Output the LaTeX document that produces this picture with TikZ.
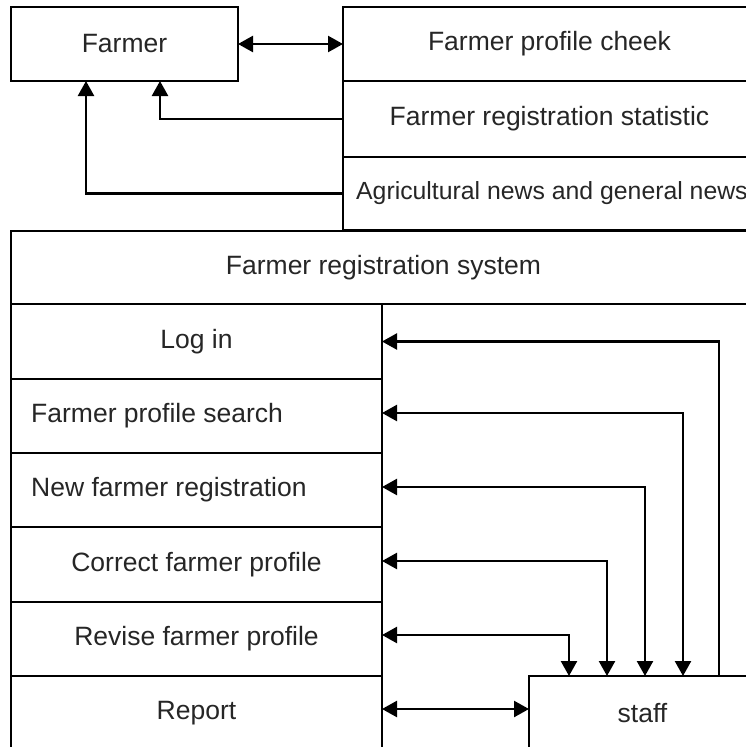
\documentclass[tikz,border=0pt]{standalone}
\usepackage{fontspec}
\setmainfont{Liberation Sans}
\usetikzlibrary{arrows.meta}
\tikzset{
  cell/.style={draw, line width=1.3pt, inner sep=0pt, outer sep=0pt, font=\fontsize{26.5}{30}\selectfont, text=black!85},
  txt/.style={inner sep=0pt, font=\fontsize{26.5}{30}\selectfont, text=black!85},
  tip/.tip={Triangle[length=15pt,width=16pt]},
  arr/.style={line width=2.4pt, -tip},
  biarr/.style={line width=2.4pt, tip-tip}
}
\begin{document}
\begin{tikzpicture}[x=1pt, y=-1pt]
\useasboundingbox (0,0) rectangle (746,747);
\clip (0,0) rectangle (746,747);
\fill[white] (0,0) rectangle (746,747);
% top part
\node[cell, minimum width=227pt, minimum height=74pt] (farmer) at (124.5,44) {Farmer};
\node[cell, minimum width=413pt, minimum height=74pt] (cheek) at (549.5,44) {Farmer profile cheek};
\node[cell, minimum width=413pt, minimum height=76pt] (stat) at (549.5,119) {Farmer registration statistic};
\node[cell, minimum width=413pt, minimum height=73pt] (news) at (549.5,193.5) {};
\node[txt, anchor=west, font=\fontsize{24.8}{30}\selectfont] (newstxt) at (356,193.5) {Agricultural news and general news};
% system
\node[cell, minimum width=745pt, minimum height=529pt] (sys) at (383.5,495.5) {};
\node[cell, minimum width=745pt, minimum height=73pt] (header) at (383.5,267.5) {Farmer registration system};
\node[cell, minimum width=371pt, minimum height=75pt] (login) at (196.5,341.5) {Log in};
\node[cell, minimum width=371pt, minimum height=74pt] (search) at (196.5,416) {};
\node[txt, anchor=west] (searchtxt) at (31,416) {Farmer profile search};
\node[cell, minimum width=371pt, minimum height=74pt] (newreg) at (196.5,490) {};
\node[txt, anchor=west] (newregtxt) at (31,490) {New farmer registration};
\node[cell, minimum width=371pt, minimum height=75pt] (correct) at (196.5,564.5) {Correct farmer profile};
\node[cell, minimum width=371pt, minimum height=74pt] (revise) at (196.5,639) {Revise farmer profile};
\node[cell, minimum width=371pt, minimum height=74pt] (report) at (196.5,713) {Report};
\node[cell, minimum width=227pt, minimum height=74pt] (staff) at (642.5,713) {staff};
% connectors top
\draw[biarr] (farmer.east) -- (cheek.west);
\draw[arr] (stat.west) -| ([xshift=35.5pt]farmer.south);
\draw[arr] (news.west) -| ([xshift=-38.5pt]farmer.south);
% connectors system
\draw[arr] ([xshift=190pt]staff.north west) |- (login.east);
\draw[biarr] ([yshift=3pt]search.east) -| ([xshift=154pt]staff.north west);
\draw[biarr] ([yshift=3pt]newreg.east) -| ([xshift=116pt]staff.north west);
\draw[biarr] ([yshift=3.5pt]correct.east) -| ([xshift=78pt]staff.north west);
\draw[biarr] ([yshift=4pt]revise.east) -| ([xshift=40pt]staff.north west);
\draw[biarr] ([yshift=4pt]report.east) -- ([yshift=4pt]staff.west);
\end{tikzpicture}
\end{document}
